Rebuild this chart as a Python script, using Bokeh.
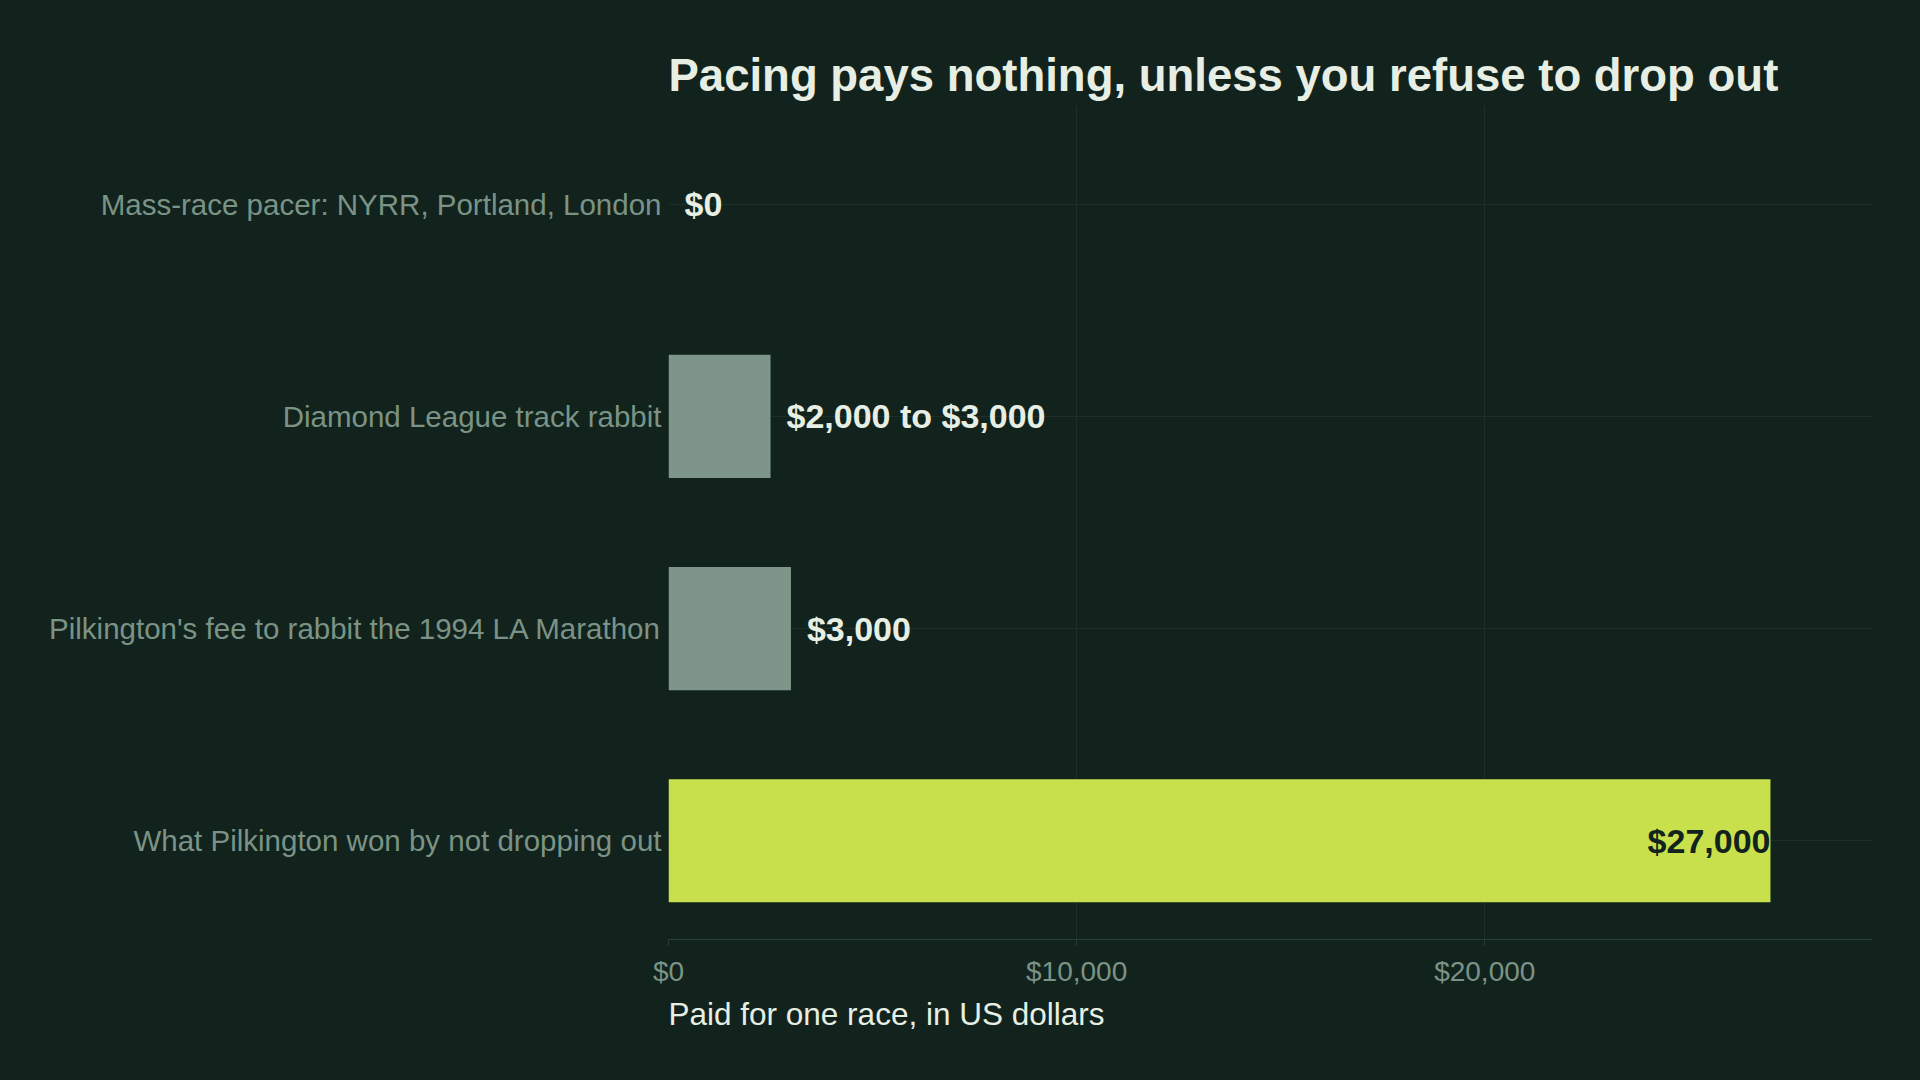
from bokeh.plotting import figure
from bokeh.models import FactorRange, Range1d, FixedTicker, NumeralTickFormatter, Title, ColumnDataSource
from bokeh.core.properties import value
from bokeh.embed import file_html
from bokeh.resources import INLINE

# data, top row first
categories = [
    "Mass-race pacer: NYRR, Portland, London",
    "Diamond League track rabbit",
    "Pilkington's fee to rabbit the 1994 LA Marathon",
    "What Pilkington won by not dropping out",
]
paid = [0, 2500, 3000, 27000]
paid_labels = ["$0", "$2,000 to $3,000", "$3,000", "$27,000"]
x_ticks = [0, 10000, 20000]

BG = "#11231c"
GRAY = "#7e9689"
LIME = "#c8e04b"
WHITE = "#e7efe5"
TICK = "#7b9386"
GRID = "#1c3028"
AXIS = "#2a4036"
FONT = "Liberation Sans"

top = max(paid)
src = ColumnDataSource(dict(
    cat=categories,
    val=paid,
    label=paid_labels,
    color=[LIME if v == top else GRAY for v in paid],
    tcolor=[BG if v == top else WHITE for v in paid],
    align=["right" if v == top else "left" for v in paid],
    xoff=[0 if v == top else 16 for v in paid],
))

p = figure(width=1904, height=1064,
           y_range=FactorRange(factors=categories[::-1], range_padding=-0.0175),
           x_range=Range1d(0, 29500),
           output_backend="svg", toolbar_location=None,
           min_border_left=668, min_border_right=32,
           min_border_top=105, min_border_bottom=125,
           background_fill_color=BG, border_fill_color=BG)
p.outline_line_color = None

p.title.text = "Pacing pays nothing, unless you refuse to drop out"
p.title.text_font = FONT
p.title.text_font_style = "bold"
p.title.text_font_size = "45.5px"
p.title.text_color = WHITE
p.title.align = "left"
p.title.standoff = 10

p.hbar(y="cat", left=0, right="val", height=0.58, fill_color="color",
       line_color=None, source=src)
p.text(x="val", y="cat", text="label", x_offset="xoff", text_align="align",
       text_color="tcolor", text_font=value(FONT), text_font_style="bold",
       text_font_size="34px", text_baseline="middle", source=src)

p.xaxis.ticker = FixedTicker(ticks=x_ticks)
p.xaxis.formatter = NumeralTickFormatter(format="$0,0")
p.xaxis.axis_line_color = AXIS
p.xaxis.major_tick_line_color = AXIS
p.xaxis.major_tick_out = 6
p.xaxis.major_tick_in = 0
p.xaxis.minor_tick_line_color = None
p.xaxis.major_label_text_font = FONT
p.xaxis.major_label_text_font_size = "28px"
p.xaxis.major_label_text_color = TICK
p.xaxis.major_label_standoff = 10

p.yaxis.axis_line_color = None
p.yaxis.major_tick_line_color = None
p.yaxis.major_tick_out = 0
p.yaxis.major_tick_in = 0
p.yaxis.minor_tick_line_color = None
p.yaxis.major_label_text_font = FONT
p.yaxis.major_label_text_font_size = "29.5px"
p.yaxis.major_label_text_color = TICK
p.yaxis.major_label_standoff = 7

p.xgrid.grid_line_color = GRID
p.ygrid.grid_line_color = GRID

p.add_layout(Title(text="Paid for one race, in US dollars", align="left",
                   text_font=FONT, text_font_style="normal",
                   text_font_size="31.5px", text_color=WHITE, standoff=8), "below")

html = file_html(p, INLINE).replace("<body>", '<body style="background-color: #11231c;">')
open("out.html", "w").write(html)
